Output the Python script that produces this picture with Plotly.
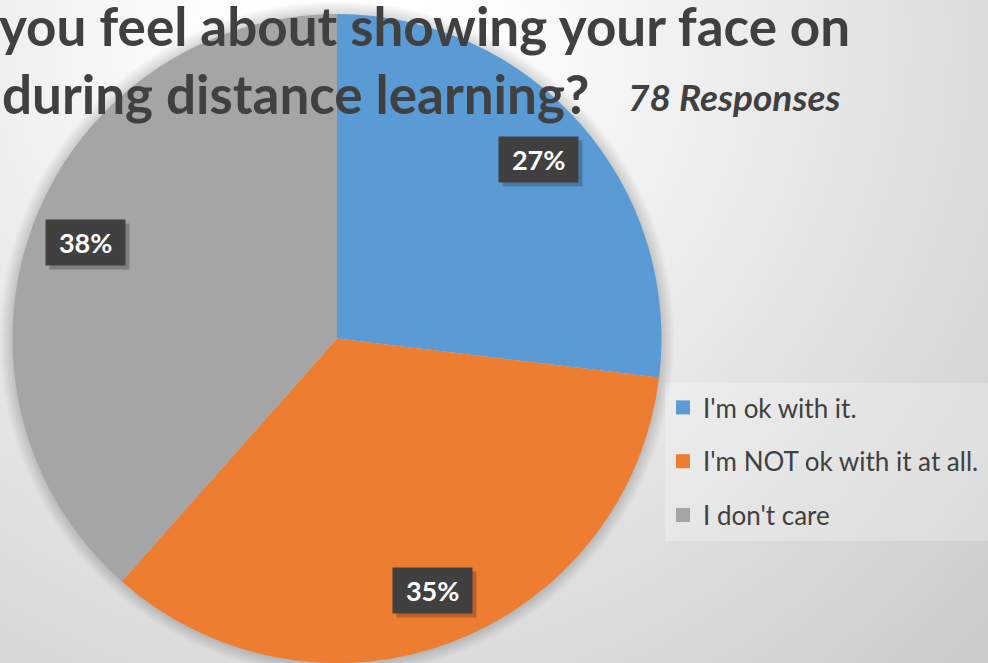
import math
import base64
import plotly.graph_objects as go

# ---- data ----
labels = ["I'm ok with it.", "I'm NOT ok with it at all.", "I don't care"]
counts = [21, 27, 30]
colors = ["#5B9BD5", "#ED7D31", "#A5A5A5"]
title_line1 = "you feel about showing your face on"
title_line2 = "during distance learning?"
subtitle = "78 Responses"

W, H = 988, 663
FONT = "Lato"
TEXT_COLOR = "#404040"

# pie placement (paper fractions)
dom_x = [12 / W, 662 / W]
dom_y = [0.0, 649 / H]
R = min((dom_x[1] - dom_x[0]) * W, (dom_y[1] - dom_y[0]) * H) / 2
cx = (dom_x[0] + dom_x[1]) / 2 * W          # px from left
cy = (1 - (dom_y[0] + dom_y[1]) / 2) * H    # px from top

fig = go.Figure()
fig.add_trace(go.Pie(
    labels=labels, values=counts, sort=False, direction="clockwise", rotation=0,
    marker=dict(colors=colors, line=dict(width=0)),
    textinfo="none", hoverinfo="label+percent", showlegend=False,
    domain=dict(x=dom_x, y=dom_y),
))

# legend entries (one per category)
for lab, col in zip(labels, colors):
    fig.add_trace(go.Scatter(
        x=[None], y=[None], mode="markers", name=lab, legendgroup=lab,
        marker=dict(symbol="square", size=14, color=col),
    ))

# background gradient
svg = f'''<svg xmlns="http://www.w3.org/2000/svg" width="{W}" height="{H}">
<defs><radialGradient id="g" gradientUnits="userSpaceOnUse" cx="350" cy="40" r="880">
<stop offset="0" stop-color="#ffffff"/><stop offset="0.17" stop-color="#fdfdfd"/>
<stop offset="1" stop-color="#cbcbcb"/></radialGradient></defs>
<rect width="{W}" height="{H}" fill="url(#g)"/></svg>'''
src = "data:image/svg+xml;base64," + base64.b64encode(svg.encode()).decode()

shapes = []
# soft shadow around the pie
for k in range(1, 14):
    r = R + k
    shapes.append(dict(type="circle", xref="paper", yref="paper", layer="below",
                       x0=(cx - r) / W, x1=(cx + r) / W,
                       y0=1 - (cy + r) / H, y1=1 - (cy - r) / H,
                       fillcolor="rgba(0,0,0,0.010)", line=dict(width=0)))
# legend box
shapes.append(dict(type="rect", xref="paper", yref="paper", layer="below",
                   x0=665 / W, x1=1.0, y0=1 - 541 / H, y1=1 - 383 / H,
                   fillcolor="rgba(255,255,255,0.25)", line=dict(width=0)))

annotations = [
    dict(text=f"<b>{title_line1}</b>", x=-3 / W, y=1 - 59 / H, xref="paper", yref="paper",
         xanchor="left", yanchor="bottom", showarrow=False,
         font=dict(family=FONT, size=53, color=TEXT_COLOR)),
    dict(text=f"<b>{title_line2}</b>", x=0, y=1 - 127 / H, xref="paper", yref="paper",
         xanchor="left", yanchor="bottom", showarrow=False,
         font=dict(family=FONT, size=53, color=TEXT_COLOR)),
    dict(text=f"<b><i>{subtitle}</i></b>", x=626 / W, y=1 - 121 / H, xref="paper", yref="paper",
         xanchor="left", yanchor="bottom", showarrow=False,
         font=dict(family=FONT, size=37, color=TEXT_COLOR)),
]

# percentage labels placed at the middle angle of each slice
total = sum(counts)
cum = 0
for v in counts:
    mid = (cum + v / 2) / total * 2 * math.pi
    cum += v
    rr = 0.83 * R
    px = cx + rr * math.sin(mid)
    py = cy - rr * math.cos(mid)
    txt = f"&nbsp;<b>{round(v / total * 100)}%</b>&nbsp;"
    common = dict(x=px / W, y=1 - py / H, xref="paper", yref="paper", showarrow=False,
                  xanchor="center", yanchor="middle", borderpad=6)
    annotations.append(dict(common, text=txt, xshift=4, yshift=-4,
                            bgcolor="rgba(0,0,0,0.22)",
                            font=dict(family=FONT, size=27, color="rgba(0,0,0,0)")))
    annotations.append(dict(common, text=txt, bgcolor="#404040",
                            font=dict(family=FONT, size=27, color="#ffffff")))

fig.update_layout(
    width=W, height=H, margin=dict(l=0, r=0, t=0, b=0),
    paper_bgcolor="#ffffff", plot_bgcolor="rgba(0,0,0,0)",
    xaxis=dict(visible=False), yaxis=dict(visible=False),
    images=[dict(source=src, xref="paper", yref="paper", x=0, y=1, sizex=1, sizey=1,
                 xanchor="left", yanchor="top", sizing="stretch", layer="below")],
    shapes=shapes, annotations=annotations,
    showlegend=True,
    legend=dict(x=663 / W, y=1 - 384 / H, xanchor="left", yanchor="top",
                bgcolor="rgba(0,0,0,0)", borderwidth=0, tracegroupgap=17,
                traceorder="grouped",
                font=dict(family=FONT, size=26, color=TEXT_COLOR)),
)

fig.write_html(
    "out.html",
    config={"displayModeBar": False},
    post_script="document.body.style.margin='0';document.body.style.overflow='hidden';",
)
